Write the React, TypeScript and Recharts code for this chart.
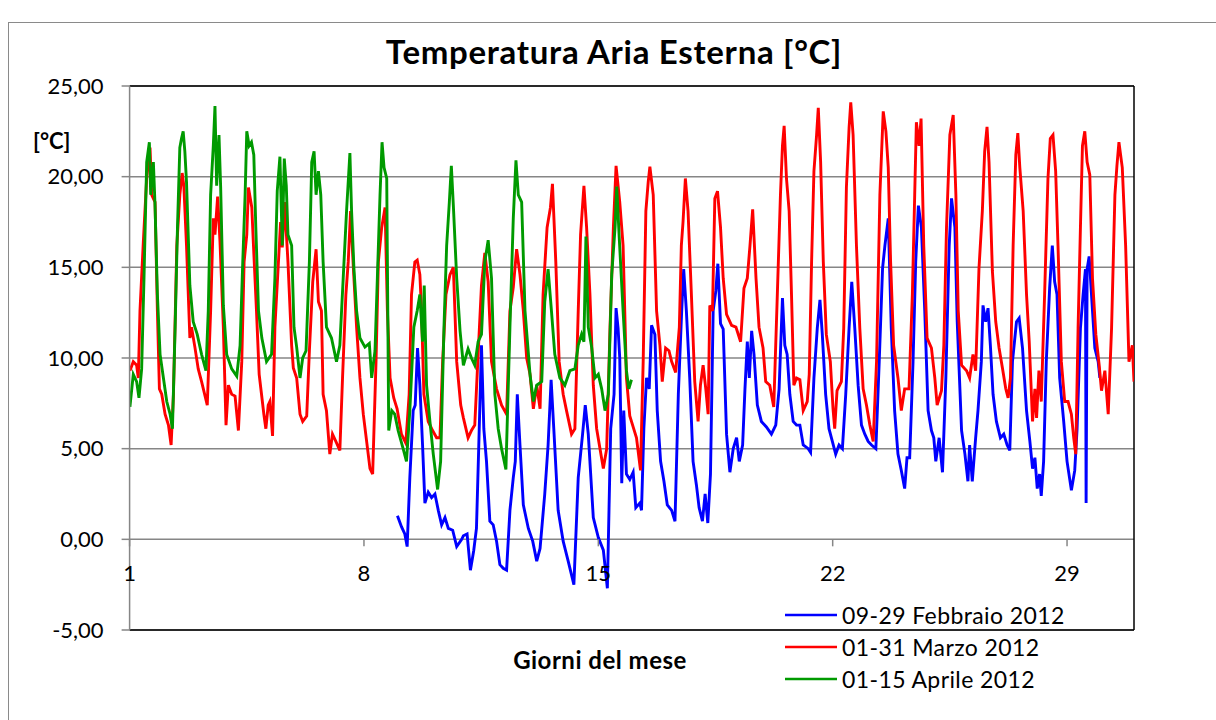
import React from 'react';
import { LineChart, Line, XAxis, YAxis, CartesianGrid, ReferenceLine, Legend } from 'recharts';

// ---------- DATA ----------
const febDays = [
  9.00, 9.12, 9.22, 9.29, 9.37, 9.47, 9.53, 9.60, 9.67, 9.75, 9.82, 9.92, 10.02, 10.12, 10.22, 10.32, 10.42, 10.52, 10.65, 10.77, 10.92,
  10.97, 11.08, 11.18, 11.28, 11.36, 11.43, 11.51, 11.58, 11.66, 11.76, 11.86, 11.96, 12.06, 12.16, 12.26, 12.36, 12.46, 12.52, 12.58, 12.66,
  12.76, 12.91, 13.04, 13.16, 13.26, 13.40, 13.50, 13.59, 13.67, 13.80, 13.95, 14.10, 14.27, 14.40, 14.53, 14.61, 14.70, 14.85, 15.00, 15.15,
  15.27, 15.37, 15.47, 15.53, 15.59, 15.64, 15.70, 15.76, 15.84, 15.94,
  16.04, 16.12, 16.24, 16.29, 16.36, 16.44, 16.52, 16.59, 16.69, 16.76, 16.86, 16.96, 17.06, 17.19, 17.29, 17.39, 17.49, 17.55, 17.63, 17.73,
  17.83, 17.93, 18.01, 18.11, 18.19, 18.27, 18.35, 18.43, 18.51, 18.57, 18.65, 18.73, 18.83, 18.93, 19.03, 19.13, 19.21, 19.31, 19.38, 19.45,
  19.51, 19.58, 19.65, 19.75, 19.87, 20.02, 20.17, 20.30, 20.40, 20.50, 20.57, 20.64, 20.72, 20.82, 20.92, 21.02,
  21.12, 21.27, 21.34, 21.44, 21.54, 21.62, 21.69, 21.79, 21.89, 21.99, 22.09, 22.19, 22.29, 22.39, 22.49, 22.57, 22.66, 22.76, 22.86, 22.96,
  23.06, 23.16, 23.29, 23.39, 23.49, 23.56, 23.66, 23.75, 23.85, 23.95, 24.05, 24.15, 24.22, 24.30, 24.40, 24.48, 24.56, 24.65, 24.75, 24.85,
  24.95, 25.02, 25.08, 25.18, 25.28, 25.38, 25.48, 25.55, 25.65, 25.72, 25.85, 25.95, 26.04,
  26.09, 26.17, 26.27, 26.34, 26.44, 26.49, 26.57, 26.64, 26.71, 26.79, 26.89, 27.01, 27.11, 27.21, 27.29, 27.37, 27.49, 27.57, 27.67, 27.79,
  27.89, 27.97, 28.04, 28.11, 28.18, 28.23, 28.30, 28.38, 28.48, 28.56, 28.63, 28.70, 28.78, 28.90, 29.00, 29.13, 29.23, 29.30, 29.40, 29.48,
  29.55, 29.57, 29.60, 29.66, 29.73, 29.83, 29.93, 29.98,
];
const febTemps = [
  1.3, 0.7, 0.3, -0.4, 3.4, 7.1, 7.4, 10.55, 8.5, 5.2, 2.0, 2.6, 2.3, 2.5, 1.6, 0.8, 1.2, 0.6, 0.5, -0.4, 0.0,
  0.2, 0.3, -1.7, -0.6, 0.6, 5.2, 10.7, 6.1, 4.3, 1.0, 0.8, -0.1, -1.4, -1.6, -1.7, 1.6, 3.4, 4.3, 8.0, 5.2,
  1.9, 0.6, -0.1, -1.2, -0.5, 2.5, 5.2, 8.8, 6.1, 1.6, -0.1, -1.2, -2.5, 3.4, 5.8, 7.4, 5.8, 1.2, 0.1, -0.6,
  -2.7, 6.1, 8.0, 12.75, 11.65, 10.0, 3.1, 7.1, 3.6, 3.3,
  3.7, 1.75, 2.0, 1.6, 6.1, 8.9, 8.3, 11.8, 11.3, 7.1, 4.3, 3.2, 1.9, 1.6, 1.0, 8.0, 12.6, 14.9, 12.6, 8.9,
  4.3, 3.0, 1.75, 1.0, 2.5, 0.9, 3.6, 12.6, 13.7, 15.2, 11.9, 11.6, 5.8, 3.7, 5.0, 5.6, 4.3, 5.2, 8.3, 10.9,
  8.9, 11.5, 10.2, 7.4, 6.5, 6.2, 5.8, 6.3, 8.3, 13.3, 10.7, 10.2, 8.0, 6.5, 6.3, 6.3,
  5.2, 5.0, 4.8, 8.9, 11.65, 13.2, 11.3, 8.0, 6.1, 5.4, 4.7, 5.2, 5.0, 8.0, 11.65, 14.2, 11.65, 8.5, 6.3, 5.8,
  5.4, 5.2, 5.0, 9.8, 14.95, 16.2, 17.7, 11.65, 7.1, 4.7, 3.8, 2.8, 4.5, 4.5, 9.8, 15.3, 18.4, 17.2, 12.6, 7.1,
  6.0, 5.6, 4.3, 5.6, 3.7, 8.9, 16.2, 18.8, 17.2, 12.0, 6.0, 4.7, 3.2,
  5.2, 3.2, 5.6, 7.1, 9.8, 12.9, 12.0, 12.75, 10.7, 8.0, 6.5, 5.6, 5.8, 5.2, 4.9, 9.8, 12.0, 12.2, 10.55, 7.1,
  5.4, 3.9, 4.5, 2.8, 3.6, 2.4, 4.3, 9.8, 13.85, 16.2, 14.2, 13.5, 8.9, 6.5, 4.3, 2.7, 3.8, 6.1, 11.65, 13.5,
  14.9, 2.0, 14.9, 15.6, 13.5, 10.55, 9.8, 8.9,
];

const marDays = [
  1.01, 1.11, 1.21, 1.26, 1.31, 1.41, 1.51, 1.61, 1.66, 1.76, 1.83, 1.89, 1.96, 2.06, 2.16, 2.24, 2.31, 2.41, 2.50, 2.57,
  2.62, 2.70, 2.80, 2.85, 2.95, 3.05, 3.15, 3.32, 3.42, 3.50, 3.55, 3.63, 3.70, 3.80, 3.88, 3.95, 4.05, 4.15, 4.25, 4.35,
  4.42, 4.50, 4.55, 4.65, 4.70, 4.79, 4.87, 4.94, 5.01, 5.07, 5.14, 5.19, 5.27, 5.34, 5.44, 5.51, 5.56, 5.63, 5.73, 5.84,
  5.89, 5.99, 6.09, 6.17, 6.29, 6.37, 6.47, 6.57, 6.64, 6.73, 6.78, 6.88, 6.98, 7.06, 7.16, 7.28, 7.36, 7.46, 7.53, 7.60,
  7.68, 7.78, 7.88, 7.98, 8.08, 8.18, 8.26, 8.36, 8.43, 8.53, 8.63, 8.70, 8.78, 8.89, 8.99, 9.12, 9.25, 9.35, 9.42, 9.52,
  9.59, 9.67, 9.72, 9.79, 9.92, 10.05, 10.17, 10.27, 10.35, 10.45, 10.57, 10.67, 10.77, 10.89,
  10.97, 11.11, 11.21, 11.31, 11.41, 11.51, 11.61, 11.71, 11.81, 11.96, 12.11, 12.26, 12.36, 12.46, 12.56, 12.66, 12.76, 12.86, 12.96, 13.06,
  13.16, 13.26, 13.35, 13.47, 13.57, 13.63, 13.73, 13.83, 13.95, 14.05, 14.20, 14.30, 14.40, 14.47, 14.57, 14.65, 14.75, 14.85, 14.95, 15.05,
  15.15, 15.25, 15.35, 15.45, 15.53, 15.64, 15.74, 15.84, 15.94,
  16.04, 16.14, 16.26, 16.34, 16.42, 16.49, 16.54, 16.64, 16.74, 16.84, 16.91, 17.01, 17.11, 17.19, 17.31, 17.42, 17.48, 17.53, 17.60, 17.68,
  17.78, 17.88, 17.98, 18.05, 18.13, 18.21, 18.28, 18.33, 18.41, 18.48, 18.56, 18.65, 18.73, 18.83, 18.98, 19.11, 19.25, 19.35, 19.45, 19.53,
  19.61, 19.71, 19.80, 19.92, 20.00, 20.12, 20.24, 20.34, 20.44, 20.50, 20.55, 20.62, 20.70, 20.77, 20.84, 20.92, 21.02,
  21.12, 21.24, 21.30, 21.37, 21.44, 21.52, 21.57, 21.64, 21.72, 21.81, 21.93, 22.01, 22.06, 22.13, 22.26, 22.33, 22.41, 22.49, 22.54, 22.61,
  22.71, 22.81, 22.91, 23.01, 23.11, 23.21, 23.31, 23.41, 23.51, 23.59, 23.66, 23.73, 23.82, 23.95, 24.05, 24.15, 24.28, 24.38, 24.45, 24.50,
  24.58, 24.64, 24.72, 24.82, 24.95, 25.05, 25.12, 25.25, 25.32, 25.40, 25.50, 25.60, 25.68, 25.75, 25.85, 26.00,
  26.09, 26.19, 26.27, 26.37, 26.47, 26.54, 26.61, 26.67, 26.77, 26.87, 26.97, 27.07, 27.17, 27.24, 27.31, 27.39, 27.47, 27.53, 27.59, 27.69,
  27.79, 27.87, 27.97, 28.04, 28.09, 28.16, 28.23, 28.33, 28.43, 28.50, 28.58, 28.66, 28.73, 28.83, 28.93, 29.03, 29.13, 29.20, 29.26, 29.33,
  29.40, 29.46, 29.53, 29.60, 29.68, 29.76, 29.86, 29.96, 30.03, 30.13, 30.23, 30.33, 30.43, 30.49, 30.55, 30.65, 30.75, 30.85, 30.95, 31.00,
];
const marTemps = [
  9.3, 9.8, 9.6, 8.9, 12.6, 16.4, 19.9, 21.6, 19.0, 18.6, 12.6, 8.3, 8.0, 6.9, 6.3, 5.2, 8.0, 16.2, 19.0, 20.2,
  19.5, 16.2, 11.1, 11.7, 10.6, 9.4, 8.7, 7.4, 12.6, 17.7, 16.8, 18.9, 16.4, 11.7, 6.3, 8.5, 8.0, 7.9, 6.0, 9.8,
  15.3, 16.8, 19.4, 18.3, 16.2, 12.6, 9.1, 8.0, 6.9, 6.1, 7.4, 7.6, 5.7, 11.7, 15.1, 17.5, 16.1, 18.6, 15.3, 10.7,
  9.45, 8.9, 6.9, 6.5, 6.8, 10.4, 14.2, 16.0, 13.1, 12.6, 8.0, 7.1, 4.7, 5.8, 5.4, 4.9, 8.9, 13.5, 15.3, 18.1,
  15.1, 11.7, 8.9, 6.9, 5.4, 3.9, 3.6, 9.8, 15.3, 17.2, 18.3, 12.6, 8.9, 7.8, 7.2, 5.8, 5.3, 8.0, 13.5, 15.3,
  15.4, 14.6, 12.6, 8.0, 6.5, 6.0, 5.6, 5.6, 9.8, 13.5, 14.6, 15.0, 9.8, 7.4,
  6.7, 5.6, 6.0, 6.3, 10.2, 14.0, 15.8, 14.2, 9.8, 8.3, 7.4, 6.9, 12.6, 13.9, 16.0, 14.6, 12.6, 10.0, 9.1, 7.2,
  8.5, 7.2, 13.5, 17.2, 18.3, 19.6, 15.3, 9.8, 8.0, 7.1, 5.8, 6.1, 12.6, 16.8, 19.5, 17.2, 13.5, 8.5, 6.1, 5.0,
  3.9, 5.0, 11.7, 17.2, 20.6, 18.6, 16.2, 8.9, 6.8,
  6.2, 5.6, 3.8, 9.8, 18.1, 19.7, 20.55, 19.0, 12.6, 10.7, 8.7, 10.55, 10.4, 9.8, 9.2, 11.7, 16.2, 17.5, 19.9, 18.1,
  13.5, 8.7, 6.5, 8.5, 9.6, 8.3, 6.9, 12.9, 12.6, 18.8, 19.2, 17.2, 14.4, 12.4, 11.8, 11.7, 10.9, 13.85, 14.4, 16.2,
  18.2, 14.4, 11.7, 10.55, 8.7, 8.5, 7.3, 13.1, 19.0, 21.7, 22.8, 19.9, 18.1, 13.5, 8.5, 8.9, 8.8,
  7.1, 7.6, 9.1, 15.3, 20.3, 22.3, 23.8, 20.8, 15.3, 11.3, 9.8, 7.2, 6.1, 8.2, 8.7, 11.65, 19.4, 22.7, 24.1, 22.3,
  16.2, 11.65, 8.3, 7.4, 6.3, 5.4, 9.8, 19.0, 23.6, 22.5, 20.5, 15.3, 10.7, 8.9, 7.1, 8.3, 8.3, 13.5, 19.0, 23.0,
  21.7, 23.2, 16.2, 11.1, 10.55, 8.9, 7.4, 8.2, 10.7, 17.2, 22.3, 23.4, 19.0, 12.6, 9.6, 9.3,
  8.9, 10.2, 9.3, 14.95, 18.1, 21.4, 22.75, 20.8, 14.8, 12.0, 10.55, 9.45, 8.3, 7.8, 8.9, 16.2, 21.2, 22.4, 20.5, 18.1,
  13.5, 10.9, 6.5, 8.3, 6.7, 9.3, 7.6, 13.5, 19.9, 22.1, 22.3, 20.3, 16.2, 9.8, 7.6, 7.6, 6.9, 5.6, 4.7, 11.65,
  17.2, 21.7, 22.5, 20.8, 20.1, 14.4, 11.3, 9.6, 8.2, 9.3, 6.9, 11.65, 19.0, 20.6, 21.9, 20.5, 16.2, 9.8, 10.7, 8.7,
];

const aprDays = [
  1.01, 1.11, 1.21, 1.28, 1.36, 1.43, 1.51, 1.59, 1.63, 1.71, 1.76, 1.83, 1.91, 2.01, 2.11, 2.21, 2.28, 2.36, 2.43, 2.50,
  2.55, 2.60, 2.65, 2.70, 2.80, 2.90, 3.02, 3.15, 3.28, 3.35, 3.42, 3.50, 3.55, 3.60, 3.67, 3.72, 3.80, 3.90, 4.05, 4.20,
  4.30, 4.38, 4.45, 4.50, 4.57, 4.64, 4.71, 4.77, 4.85, 4.95, 5.09, 5.24, 5.34, 5.41, 5.49, 5.56, 5.62, 5.68, 5.73, 5.84,
  5.91, 5.99, 6.09, 6.17, 6.27, 6.37, 6.44, 6.51, 6.57, 6.64, 6.71, 6.78, 6.88, 7.03, 7.18, 7.28, 7.38, 7.48, 7.58, 7.63,
  7.70, 7.78, 7.88, 8.03, 8.16, 8.23, 8.33, 8.40, 8.48, 8.54, 8.60, 8.68, 8.74, 8.83, 8.92, 9.02, 9.17, 9.27, 9.37, 9.49,
  9.59, 9.67, 9.75, 9.80, 9.87, 9.97, 10.07, 10.20, 10.29, 10.39, 10.47, 10.55, 10.61, 10.67, 10.77, 10.87, 10.97, 11.11, 11.21, 11.31,
  11.41, 11.51, 11.61, 11.71, 11.81, 11.91, 12.01, 12.11, 12.24, 12.36, 12.46, 12.54, 12.61, 12.71, 12.81, 12.96, 13.06, 13.16, 13.31, 13.40,
  13.50, 13.60, 13.70, 13.85, 14.00, 14.15, 14.30, 14.40, 14.50, 14.57, 14.63, 14.70, 14.80, 14.90, 15.00, 15.10, 15.20, 15.30, 15.40, 15.50,
  15.55, 15.62, 15.74, 15.84, 15.91, 15.99,
];
const aprTemps = [
  7.3, 9.1, 8.7, 7.8, 9.4, 14.4, 20.8, 21.9, 19.0, 20.8, 18.4, 13.5, 10.2, 8.9, 7.6, 6.9, 6.1, 11.7, 17.2, 21.6,
  22.1, 22.5, 21.4, 19.7, 14.0, 12.0, 11.3, 10.2, 9.3, 12.6, 19.0, 21.7, 23.9, 19.5, 22.3, 19.4, 12.9, 10.2, 9.4, 9.0,
  10.7, 15.3, 19.0, 22.5, 21.7, 21.9, 21.2, 17.2, 12.6, 11.1, 9.8, 10.2, 14.4, 19.2, 21.1, 16.2, 21.0, 19.5, 16.8, 16.2,
  11.7, 10.6, 8.9, 10.0, 10.4, 15.3, 20.8, 21.4, 19.0, 20.3, 19.0, 15.3, 11.7, 11.1, 9.8, 10.7, 14.4, 18.1, 21.3, 18.1,
  14.95, 12.6, 11.1, 10.6, 10.8, 8.9, 10.4, 14.4, 19.0, 21.9, 20.5, 19.9, 6.0, 7.1, 6.9, 6.0, 5.0, 4.3, 7.1, 11.7,
  12.6, 13.5, 10.9, 14.0, 8.5, 6.5, 4.7, 2.75, 4.3, 11.7, 16.2, 18.6, 20.6, 18.4, 14.4, 11.5, 9.6, 10.5, 10.0, 9.6,
  10.9, 11.3, 15.3, 16.5, 14.4, 8.0, 6.1, 5.0, 3.85, 11.7, 17.7, 20.9, 19.0, 18.6, 12.6, 9.1, 7.6, 8.5, 8.7, 13.1,
  14.9, 12.6, 10.2, 8.9, 8.5, 9.3, 9.4, 10.7, 11.3, 10.9, 16.7, 11.7, 10.6, 8.9, 9.1, 8.3, 7.1, 8.0, 14.6, 17.2,
  19.45, 16.8, 12.6, 9.3, 8.3, 8.8,
];

const xTicks = [1, 8, 15, 22, 29];
const yTicks = [-5, 0, 5, 10, 15, 20, 25];
const seriesNames = ['09-29 Febbraio 2012', '01-31 Marzo 2012', '01-15 Aprile 2012'];
const seriesColors = ['#0000FF', '#FF0000', '#009A00'];

const toPoints = (days: number[], temps: number[]) => days.map((d, i) => ({ day: d, t: temps[i] }));
const febData = toPoints(febDays, febTemps);
const marData = toPoints(marDays, marTemps);
const aprData = toPoints(aprDays, aprTemps);

// ---------- LAYOUT ----------
const W = 1216;
const H = 720;
const PLOT_LEFT = 129.6;
const PLOT_RIGHT = 1134;
const PLOT_TOP = 86;
const PLOT_BOTTOM = 630;
const Y_AXIS_W = 80;
const X_AXIS_H = 30;
const Y_MIN = yTicks[0];
const Y_MAX = yTicks[yTicks.length - 1];
const ZERO_Y = PLOT_TOP + ((PLOT_BOTTOM - PLOT_TOP) * (Y_MAX - 0)) / (Y_MAX - Y_MIN);
const FONT = 'Lato, "Open Sans", sans-serif';
const GRID = '#868686';
const LINE_W = 2.9;

const fmt = (v: number) => v.toFixed(2).replace('.', ',');

function XTick(props: any) {
  const { x, payload } = props;
  return (
    <g>
      <line x1={x} x2={x} y1={ZERO_Y} y2={ZERO_Y + 7} stroke={GRID} strokeWidth={1.5} />
      <text x={x} y={ZERO_Y + 33} textAnchor="middle" dominantBaseline="central" fontSize={22} fontFamily={FONT} fill="#000">
        {payload.value}
      </text>
    </g>
  );
}

function LegendContent(props: any) {
  const payload = [...(props.payload || [])].sort(
    (a: any, b: any) => seriesNames.indexOf(a.value) - seriesNames.indexOf(b.value)
  );
  return (
    <div style={{ fontFamily: FONT, fontSize: 23, letterSpacing: 0.4, color: '#000' }}>
      {payload.map((p: any) => (
        <div key={p.value} style={{ display: 'flex', alignItems: 'center', height: 32, lineHeight: '32px', whiteSpace: 'nowrap' }}>
          <svg width={57} height={10} style={{ display: 'block' }}>
            <line x1={0} x2={52} y1={5} y2={5} stroke={p.color} strokeWidth={2.5} />
          </svg>
          <span>{p.value}</span>
        </div>
      ))}
    </div>
  );
}

export default function App() {
  return (
    <div style={{ position: 'absolute', left: 0, top: 0, width: W, height: H, background: '#fff', overflow: 'hidden' }}>
      <div
        style={{
          position: 'absolute', left: 8, top: 22, width: W - 8, height: H - 22,
          borderTop: '1.5px solid #8a8a8a', borderLeft: '1.5px solid #8a8a8a', boxSizing: 'border-box',
        }}
      />
      <div
        style={{
          position: 'absolute', left: 0, width: 1228, top: 31, textAlign: 'center',
          fontFamily: FONT, fontWeight: 700, fontSize: 33, letterSpacing: 0.7, lineHeight: '40px', color: '#000',
        }}
      >
        Temperatura Aria Esterna [°C]
      </div>
      <div
        style={{
          position: 'absolute', left: 33, top: 128, fontFamily: FONT, fontWeight: 700, fontSize: 22,
          lineHeight: '26px', color: '#000',
        }}
      >
        [°C]
      </div>
      <div
        style={{
          position: 'absolute', left: 400, width: 400, top: 645, textAlign: 'center', fontFamily: FONT,
          fontWeight: 700, fontSize: 24, letterSpacing: 0.5, lineHeight: '30px', color: '#000',
        }}
      >
        Giorni del mese
      </div>
      <div style={{ position: 'absolute', left: 0, top: 0 }}>
        <LineChart
          width={W}
          height={H}
          margin={{ top: PLOT_TOP, right: W - PLOT_RIGHT, bottom: H - PLOT_BOTTOM - X_AXIS_H, left: PLOT_LEFT - Y_AXIS_W }}
        >
          <CartesianGrid vertical={false} stroke={GRID} strokeWidth={1.5} />
          <XAxis
            type="number"
            dataKey="day"
            domain={[1, 31]}
            ticks={xTicks}
            allowDataOverflow
            axisLine={false}
            tickLine={false}
            height={X_AXIS_H}
            tick={<XTick />}
          />
          <YAxis
            type="number"
            domain={[Y_MIN, Y_MAX]}
            ticks={yTicks}
            allowDataOverflow
            width={Y_AXIS_W}
            tickFormatter={fmt}
            axisLine={{ stroke: GRID, strokeWidth: 1.5 }}
            tickLine={{ stroke: GRID, strokeWidth: 1.5 }}
            tickSize={8}
            tickMargin={18}
            tick={{ fontSize: 22, fill: '#000', fontFamily: FONT }}
          />
          <ReferenceLine y={Y_MAX} stroke="#000" strokeWidth={1.5} />
          <ReferenceLine y={Y_MIN} stroke="#000" strokeWidth={1.5} />
          <ReferenceLine x={31} stroke="#000" strokeWidth={1.5} />
          <Line data={febData} dataKey="t" name={seriesNames[0]} stroke={seriesColors[0]} strokeWidth={LINE_W} dot={false} isAnimationActive={false} type="linear" />
          <Line data={marData} dataKey="t" name={seriesNames[1]} stroke={seriesColors[1]} strokeWidth={LINE_W} dot={false} isAnimationActive={false} type="linear" />
          <Line data={aprData} dataKey="t" name={seriesNames[2]} stroke={seriesColors[2]} strokeWidth={LINE_W} dot={false} isAnimationActive={false} type="linear" />
          <Legend
            layout="vertical"
            align="center"
            verticalAlign="middle"
            content={<LegendContent />}
            wrapperStyle={{ left: 785, top: 599, width: 330, bottom: 'auto', right: 'auto' }}
          />
        </LineChart>
      </div>
    </div>
  );
}
